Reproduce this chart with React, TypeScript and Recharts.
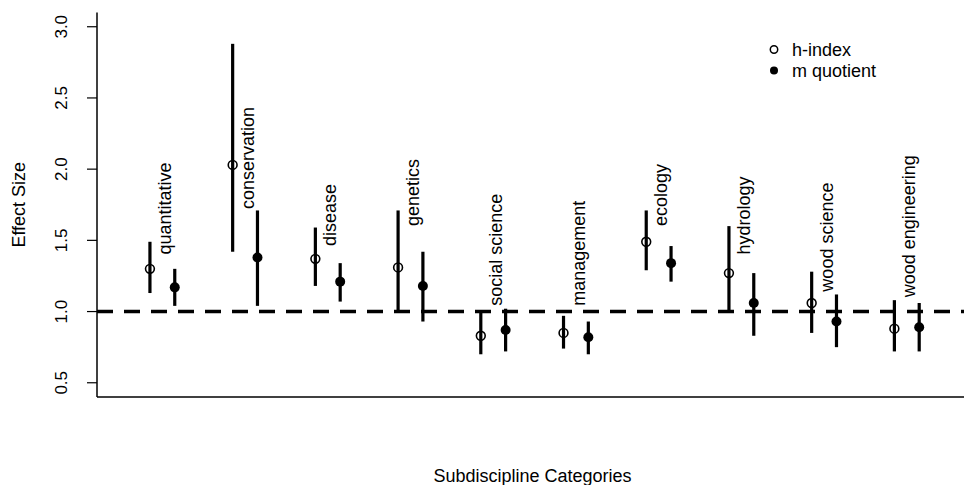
import { ScatterChart, Scatter, XAxis, YAxis, ErrorBar, ReferenceLine } from "recharts";

const FONT = "'Liberation Sans', Arial, sans-serif";

const categories = [
  "quantitative",
  "conservation",
  "disease",
  "genetics",
  "social science",
  "management",
  "ecology",
  "hydrology",
  "wood science",
  "wood engineering",
];
const hIndex = [1.3, 2.03, 1.37, 1.31, 0.83, 0.85, 1.49, 1.27, 1.06, 0.88];
const hLower = [1.13, 1.42, 1.18, 1.0, 0.7, 0.74, 1.29, 1.0, 0.85, 0.72];
const hUpper = [1.49, 2.88, 1.59, 1.71, 1.0, 0.97, 1.71, 1.6, 1.28, 1.08];
const mQuotient = [1.17, 1.38, 1.21, 1.18, 0.87, 0.82, 1.34, 1.06, 0.93, 0.89];
const mLower = [1.04, 1.04, 1.07, 0.93, 0.72, 0.7, 1.21, 0.83, 0.75, 0.72];
const mUpper = [1.3, 1.71, 1.34, 1.42, 1.02, 0.93, 1.46, 1.27, 1.12, 1.06];
// effect size where each rotated category label starts
const labelAt = [1.4, 1.72, 1.46, 1.6, 1.04, 1.04, 1.6, 1.4, 1.14, 1.1];
const yTicks = [0.5, 1.0, 1.5, 2.0, 2.5, 3.0];

const M_OFFSET = 0.3; // m quotient sits right of h-index in each category

const hData = categories.map((c, i) => ({
  x: i + 1,
  y: hIndex[i],
  err: [hIndex[i] - hLower[i], hUpper[i] - hIndex[i]],
}));
const mData = categories.map((c, i) => ({
  x: i + 1 + M_OFFSET,
  y: mQuotient[i],
  err: [mQuotient[i] - mLower[i], mUpper[i] - mQuotient[i]],
}));
const labelData = categories.map((c, i) => ({ x: i + 1, y: labelAt[i], name: c }));

const OpenDot = (p: any) => (
  <circle cx={p.cx} cy={p.cy} r={4.4} fill="none" stroke="#000" strokeWidth={1.6} />
);
const FilledDot = (p: any) => <circle cx={p.cx} cy={p.cy} r={5} fill="#000" />;

const CatLabel = (p: any) => {
  const x = p.cx + 21;
  return (
    <text
      x={x}
      y={p.cy}
      transform={`rotate(-90 ${x} ${p.cy})`}
      textAnchor="start"
      fontSize={18}
      fontFamily={FONT}
      fill="#000"
    >
      {p.payload.name}
    </text>
  );
};

const YTick = ({ x, y, payload }: any) => (
  <text
    x={x}
    y={y}
    transform={`rotate(-90 ${x} ${y})`}
    textAnchor="middle"
    fontSize={17}
    fontFamily={FONT}
    fill="#000"
  >
    {Number(payload.value).toFixed(1)}
  </text>
);

const YTitle = ({ viewBox }: any) => {
  const x = viewBox.x + 25;
  const y = viewBox.y + viewBox.height / 2;
  return (
    <text x={x} y={y} transform={`rotate(-90 ${x} ${y})`} textAnchor="middle" fontSize={18} fontFamily={FONT} fill="#000">
      Effect Size
    </text>
  );
};

const XTitle = ({ viewBox }: any) => (
  <text
    x={viewBox.x + viewBox.width / 2}
    y={viewBox.y + viewBox.height - 3}
    textAnchor="middle"
    fontSize={18}
    fontFamily={FONT}
    fill="#000"
  >
    Subdiscipline Categories
  </text>
);

function LegendBox() {
  return (
    <svg width={964} height={485} style={{ position: "absolute", left: 0, top: 0, pointerEvents: "none" }}>
      <circle cx={774} cy={49.5} r={3.7} fill="none" stroke="#000" strokeWidth={1.5} />
      <text x={792} y={56} fontSize={18} fontFamily={FONT} fill="#000">
        h-index
      </text>
      <circle cx={774} cy={70.5} r={4} fill="#000" />
      <text x={792} y={77} fontSize={18} fontFamily={FONT} fill="#000">
        m quotient
      </text>
    </svg>
  );
}

export default function App() {
  return (
    <div
      style={{
        position: "absolute",
        left: 0,
        top: 0,
        width: 964,
        height: 485,
        overflow: "hidden",
        background: "#fff",
      }}
    >
      <ScatterChart width={968} height={485} margin={{ top: 12.5, right: 0, bottom: 0, left: 0 }}>
        <XAxis
          type="number"
          dataKey="x"
          domain={[0.36, 10.89]}
          allowDataOverflow
          height={88}
          tick={false}
          tickLine={false}
          axisLine={{ stroke: "#000", strokeWidth: 1.5 }}
          label={<XTitle />}
        />
        <XAxis
          xAxisId="top"
          orientation="top"
          type="number"
          domain={[0.36, 10.89]}
          allowDataOverflow
          height={0}
          tick={false}
          tickLine={false}
          axisLine={{ stroke: "#000", strokeWidth: 1.5 }}
        />
        <YAxis
          type="number"
          dataKey="y"
          domain={[0.4, 3.1]}
          allowDataOverflow
          ticks={yTicks}
          width={97}
          tickSize={10}
          tickMargin={20}
          tick={<YTick />}
          tickLine={{ stroke: "#000", strokeWidth: 1.2 }}
          axisLine={{ stroke: "#000", strokeWidth: 1.5 }}
          label={<YTitle />}
        />
        <ReferenceLine y={1} stroke="#000" strokeWidth={3.5} strokeDasharray="16 11" />
        <Scatter data={hData} shape={<OpenDot />} isAnimationActive={false}>
          <ErrorBar dataKey="err" direction="y" width={0} stroke="#000" strokeWidth={3.2} />
        </Scatter>
        <Scatter data={mData} shape={<FilledDot />} isAnimationActive={false}>
          <ErrorBar dataKey="err" direction="y" width={0} stroke="#000" strokeWidth={3.2} />
        </Scatter>
        <Scatter data={labelData} shape={<CatLabel />} isAnimationActive={false} />
      </ScatterChart>
      <LegendBox />
    </div>
  );
}
